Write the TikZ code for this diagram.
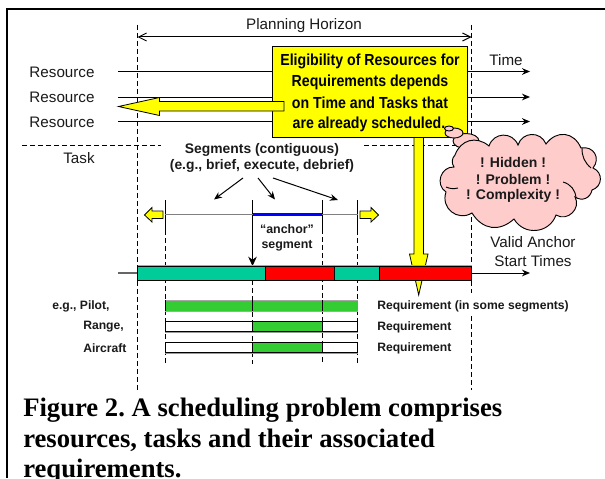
\documentclass[tikz,border=0pt]{standalone}
\usepackage{fontspec}
\setmainfont{Liberation Sans}
\newfontfamily\capfont{Liberation Serif}
\usetikzlibrary{arrows.meta,calc}
\definecolor{teal1}{HTML}{00CC99}
\definecolor{grn}{HTML}{33CC33}
\definecolor{yel}{HTML}{FFFF00}
\definecolor{pink1}{HTML}{FFCCCC}
\definecolor{ink}{HTML}{1A1A1A}
\tikzset{
  x=0.75pt,y=-0.75pt,
  plain/.style={font=\fontsize{11.4pt}{14pt}\selectfont,text=ink,inner sep=0pt,align=center},
  boldsm/.style={font=\fontsize{9.1pt}{11pt}\selectfont\bfseries,text=ink,inner sep=0pt,anchor=west},
  boldmd/.style={font=\fontsize{10.4pt}{12pt}\selectfont\bfseries,text=ink,inner sep=0pt,align=center},
  boldan/.style={font=\fontsize{9.3pt}{11.3pt}\selectfont\bfseries,text=ink,inner sep=0pt,align=center},
  boxline/.style={font=\fontsize{12pt}{14pt}\selectfont\bfseries,inner sep=0pt},
  cloudtxt/.style={font=\fontsize{10.5pt}{12.5pt}\selectfont\bfseries,text=ink,inner sep=0pt},
  captxt/.style={font=\fontsize{20pt}{22pt}\selectfont\capfont\bfseries\frenchspacing,inner sep=0pt,anchor=base west},
  vdash/.style={black,line width=0.75pt,dash pattern=on 3.4pt off 2.6pt},
  tl/.style={black,line width=0.75pt},
  tip/.style={-{Stealth[length=6pt,width=5pt]}},
  yarrow/.style={fill=yel,draw=black,line width=0.6pt},
  seg/.style={draw=black,line width=0.75pt},
}
\begin{document}
\begin{tikzpicture}
\useasboundingbox (0,0) rectangle (605,478);
\clip (0,0) rectangle (605,478);
\fill[white] (0,0) rectangle (605,478);
% frame
\coordinate (fbl) at (7,478); \coordinate (ftl) at (7,9); \coordinate (ftr) at (605,9);
\draw[black,line width=1.5pt] (fbl) -- (ftl) -- (ftr);
% horizon dashed
\coordinate (ha) at (137.5,25); \coordinate (hb) at (137.5,390);
\coordinate (hc) at (471.5,25); \coordinate (hd) at (471.5,293);
\coordinate (he) at (471.5,316); \coordinate (hf) at (471.5,390);
\draw[vdash] (ha) -- (hb);
\draw[vdash] (hc) -- (hd);
\draw[vdash] (he) -- (hf);
\draw[tl,{Straight Barb[length=6pt,width=6pt]}-{Straight Barb[length=6pt,width=6pt]}] (137.5,37) coordinate (pa) -- (471.5,37) coordinate (pb);
\node[plain] (ph) at (304,26) {Planning Horizon};
% task divider
\coordinate (da) at (22,145.5); \coordinate (db) at (161,145.5);
\coordinate (dc) at (364,145.5); \coordinate (dd) at (490,145.5);
\draw[vdash] (da) -- (db);
\draw[vdash] (dc) -- (dd);
% resource labels
\node[plain] (r1) at (62,72.5) {Resource};
\node[plain] (r2) at (62,97.5) {Resource};
\node[plain] (r3) at (62,122) {Resource};
\node[plain] (task) at (79,158.5) {Task};
\node[plain] (time) at (506,60) {Time};
% resource lines
\foreach \yy/\nm in {71.5/a,97/b,121.5/c}{
  \coordinate (l\nm) at (118,\yy); \coordinate (e\nm) at (530,\yy);
  \draw[tl,tip] (l\nm) -- (e\nm);
}
% big down arrow
\coordinate (dtop) at (418.7,137);
\draw[yarrow] (414,137) -- (414,254) -- (409.5,254) -- (418.7,295) -- (428,254) -- (423.5,254) -- (423.5,137) -- cycle;
% eligibility box
\node[draw=black,fill=yel,line width=0.8pt,minimum width=194.5pt*0.75,minimum height=90.5pt*0.75,inner sep=0pt] (elig) at (370.2,91.8) {};
\node[boxline] (b1) at (370,61) {\scalebox{.885}[1]{Eligibility of Resources for}};
\node[boxline] (b2) at (370,82) {\scalebox{.885}[1]{Requirements depends}};
\node[boxline] (b3) at (370,103) {\scalebox{.885}[1]{on Time and Tasks that}};
\node[boxline] (b4) at (369,124.5) {\scalebox{.885}[1]{are already scheduled.}};
% big left arrow
\draw[yarrow] (284,101.5) -- (159.5,101.5) -- (159.5,97.5) -- (118.5,106.5) -- (159.5,115.5) -- (159.5,111) -- (284,111) -- cycle;
% thought bubbles and cloud
\draw[fill=pink1,draw=black,line width=.7pt] (466,141) ellipse (13 and 7.5);
\draw[fill=pink1,draw=black,line width=.7pt] (454,133) ellipse (9 and 5);
\draw[fill=pink1,draw=black,line width=.7pt] (449,128.5) ellipse (4.5 and 2.5);
\draw[fill=pink1,draw=black,line width=.7pt]
  (455,155) to[bend left=55,looseness=1.2] (489,146) to[bend left=70,looseness=1.3] (518,145) to[bend left=70,looseness=1.3] (546,144)
  to[bend left=60,looseness=1.3] (581,148) to[bend left=70,looseness=1.4] (593,168) to[bend left=70,looseness=1.3] (592,190)
  to[bend left=55,looseness=1.2] (575,197) to[bend left=75,looseness=1.3] (556,215) to[bend left=65,looseness=1.2] (514,219)
  to[bend left=50,looseness=1.2] (472,213) to[bend left=70,looseness=1.3] (446,192) to[bend left=75,looseness=1.3] (454,167)
  to[bend left=40] (455,155) -- cycle;
\draw[black,line width=.7pt] (563,182) to[bend left=35] (576,198);
\draw[black,line width=.7pt] (446,187) to[bend right=18] (458,188);
\draw[black,line width=.7pt] (582,148) to[bend right=25] (591,168);
\node[cloudtxt] (c1) at (513,162.5) {! Hidden !};
\node[cloudtxt] (c2) at (513,179) {! Problem !};
\node[cloudtxt] (c3) at (513,195.5) {! Complexity !};
% segments
\node[boldmd] (segt) at (262,158) {Segments (contiguous)\\(e.g., brief, execute, debrief)};
\coordinate (s1) at (243,178); \coordinate (t1) at (214,199.5);
\coordinate (s2) at (258,178); \coordinate (t2) at (275,199.5);
\coordinate (s3) at (273,178); \coordinate (t3) at (338,200);
\draw[tl,tip] (s1) -- (t1);
\draw[tl,tip] (s2) -- (t2);
\draw[tl,tip] (s3) -- (t3);
% vertical guides
\draw[tl] (165,200) -- (165,230) coordinate (v1);
\draw[vdash] (v1) -- (165,364);
\draw[tl] (322,200) -- (322,229) coordinate (v3);
\draw[vdash] (v3) -- (322,364);
\draw[tl] (357.5,200) -- (357.5,230) coordinate (v4);
\draw[vdash] (v4) -- (357.5,364);
\coordinate (v2a) at (252.5,200); \coordinate (v2b) at (252.5,266);
\draw[tl,-{Stealth[length=7pt,width=6.5pt]}] (v2a) -- (v2b);
\draw[vdash] (252.5,280) -- (252.5,364);
% segment line
\draw[draw=gray,line width=1pt] (165,214.5) -- (252.5,214.5);
\draw[draw=gray,line width=1pt] (322,214.5) -- (357.5,214.5);
\draw[draw=blue,line width=1.9pt] (252.5,214.5) -- (322,214.5);
\node[boldan] (anch) at (287,237.5) {“anchor”\\segment};
% small yellow arrows
\draw[yarrow] (163,211) -- (152,211) -- (152,207.5) -- (144.5,215) -- (152,222) -- (152,218.5) -- (163,218.5) -- cycle;
\draw[yarrow] (360,211) -- (371,211) -- (371,207.5) -- (378.5,215) -- (371,222) -- (371,218.5) -- (360,218.5) -- cycle;
% valid anchor bar
\coordinate (ba) at (118,273); \coordinate (bb) at (137.5,273);
\coordinate (bc) at (471.5,273); \coordinate (bd) at (530,273);
\draw[draw=gray!80!black,line width=.9pt] (ba) -- (bb);
\draw[tl,tip] (bc) -- (bd);
\fill[gray!70] (137.5,265) rectangle (471.5,281);
\draw[seg,fill=teal1] (137.5,266) rectangle (265.5,280);
\draw[seg,fill=red] (265.5,266) rectangle (334.5,280);
\draw[seg,fill=teal1] (334.5,266) rectangle (379.5,280);
\draw[seg,fill=red] (379.5,266) rectangle (471.5,280);
\node[plain] (va) at (533,251.5) {Valid Anchor\\Start Times};
% requirement bars
\fill[gray!70] (165,300) rectangle (357.5,312);
\draw[draw=none,fill=grn] (165,300.5) rectangle (357.5,310.5);
\draw[tl] (165,300) -- (165,311);
\foreach \xx in {252.5,322}{\draw[tl] (\xx,300) -- (\xx,311);}
\foreach \yt/\yb in {321.5/331.5,342.5/352.5}{
  \fill[gray!80] (165,\yb) rectangle (357.5,\yb+1.5);
  \draw[tl,fill=white] (165,\yt) rectangle (357.5,\yb);
  \draw[tl,fill=grn] (252.5,\yt) rectangle (322,\yb);
}
\node[boldsm] (q1) at (377,306) {Requirement (in some segments)};
\node[boldsm] (q2) at (377,327) {Requirement};
\node[boldsm] (q3) at (377,348) {Requirement};
\node[boldsm] (p1) at (52,306) {e.g., Pilot,};
\node[boldsm] (p2) at (83,327) {Range,};
\node[boldsm] (p3) at (83,348) {Aircraft};
% caption
\node[captxt] (cap1) at (23,416) {Figure 2. A scheduling problem comprises};
\node[captxt] (cap2) at (23,447) {resources, tasks and their associated};
\node[captxt] (cap3) at (23,477) {requirements.};
\end{tikzpicture}
\end{document}
